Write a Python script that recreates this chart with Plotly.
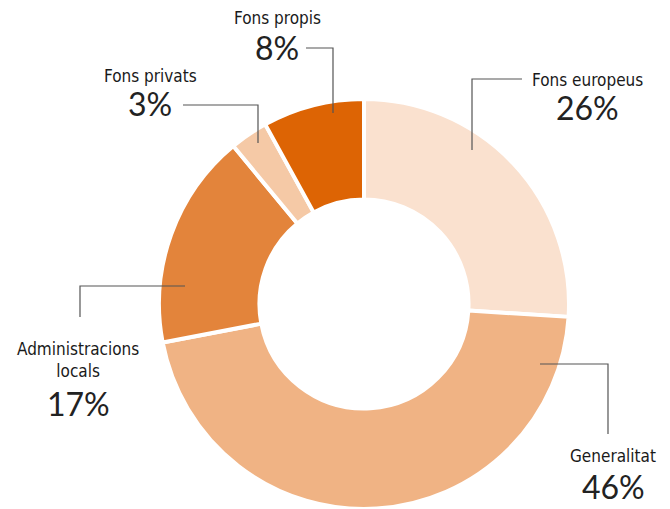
import plotly.graph_objects as go

W, H = 670, 509

labels = ["Fons europeus", "Generalitat", "Administracions locals", "Fons privats", "Fons propis"]
values = [26, 46, 17, 3, 8]
colors = ["#FAE1CF", "#F0B384", "#E3843B", "#F5C9A6", "#DD6404"]

# label layout (pixel positions): name text, name centre, pct centre, leader polyline
label_text = ["Fons europeus", "Generalitat", "Administracions<br>locals", "Fons privats", "Fons propis"]
name_pos = [(587, 80), (613, 456), (78, 360), (150, 76), (277, 18)]
pct_pos = [(587, 108), (613, 486), (78, 403), (150, 104), (277, 48)]
leaders = [
    [(522, 79), (472, 79), (472, 150)],
    [(540, 364), (608, 364), (608, 434)],
    [(185, 286), (80, 286), (80, 317)],
    [(183, 105), (258, 105), (258, 143)],
    [(306, 48), (333, 48), (333, 113)],
]


def px(x, y):
    return x / W, 1 - y / H


fig = go.Figure(go.Pie(
    labels=labels, values=values, sort=False, direction="clockwise", rotation=0,
    hole=0.51, textinfo="none", hoverinfo="label+percent",
    marker=dict(colors=colors, line=dict(color="white", width=4)),
    domain=dict(x=[158 / W, 570 / W], y=[0, 410 / H]),
    showlegend=False,
))

annotations = []
for name, val, (nx, ny), (qx, qy) in zip(label_text, values, name_pos, pct_pos):
    x, y = px(nx, ny)
    annotations.append(dict(x=x, y=y, xref="paper", yref="paper", text=name, showarrow=False,
                            font=dict(family="DejaVu Sans Condensed, Liberation Sans Narrow, sans-serif",
                                      size=17, color="#1a1a1a"),
                            xanchor="center", yanchor="middle", align="center"))
    x, y = px(qx, qy)
    annotations.append(dict(x=x, y=y, xref="paper", yref="paper", text=f"{val}%", showarrow=False,
                            font=dict(family="Lato, Open Sans, sans-serif", size=32, color="#222222"),
                            xanchor="center", yanchor="middle"))

shapes = []
for pts in leaders:
    path = "M " + " L ".join(f"{px(x, y)[0]:.5f},{px(x, y)[1]:.5f}" for x, y in pts)
    shapes.append(dict(type="path", path=path, xref="paper", yref="paper",
                       line=dict(color="#555555", width=1.2)))

fig.update_layout(
    width=W, height=H, margin=dict(l=0, r=0, t=0, b=0),
    paper_bgcolor="white", plot_bgcolor="white",
    annotations=annotations, shapes=shapes,
)

fig.write_html("out.html", config={"displayModeBar": False},
               post_script="document.body.style.margin='0';")
